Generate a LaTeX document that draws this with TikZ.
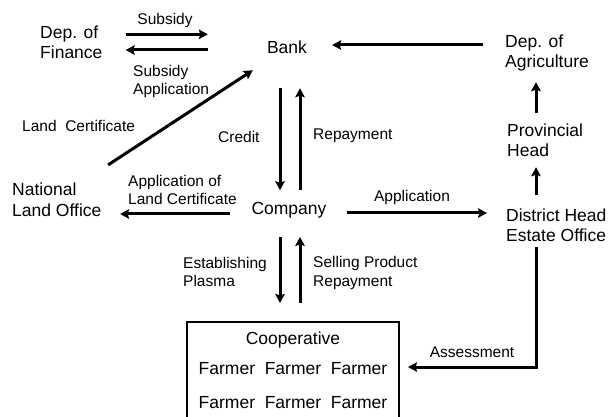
\documentclass[tikz,border=0pt]{standalone}
\usepackage{fontspec}
\setmainfont{Liberation Sans}
\usetikzlibrary{arrows.meta}
\tikzstyle{actor} = [inner sep=0pt, align=left, font=\fontsize{17.5}{20}\selectfont]
\tikzstyle{note} = [inner sep=0pt, align=left, font=\fontsize{15.5}{18.5}\selectfont]
\tikzstyle{group} = [rectangle, draw=black, line width=2pt, minimum width=212pt, inner xsep=0pt, inner ysep=10pt, align=center, font=\fontsize{17.5}{20}\selectfont]
\tikzstyle{arrow} = [line width=3pt,-{Stealth[length=9pt,width=9.5pt,inset=1.5pt]}]

\begin{document}
\begin{tikzpicture}[x=1pt,y=-1pt]
\useasboundingbox (0,0) rectangle (611,417);

% Nodes
\node (fin) [actor, anchor=west] at (40,42.1) {Dep. of\\Finance};
\node (bank) [actor] at (287,47.6) {Bank};
\node (agri) [actor, anchor=west] at (505,53) {Dep. of\\Agriculture};
\node (prov) [actor, anchor=west] at (507,140.6) {Provincial\\Head};
\node (dist) [actor, anchor=west] at (506,225.3) {District Head\\Estate Office};
\node (comp) [actor] at (289,210.5) {Company};
\node (nlo) [actor, anchor=west] at (12,199.5) {National\\[1.5pt]Land Office};
\node (coop) [group, anchor=north] at (293,321) {Cooperative\\[10pt]Farmer\ \ Farmer\ \ Farmer\\[14pt]Farmer\ \ Farmer\ \ Farmer\rule[-12pt]{0pt}{12pt}};

% Annotations
\node (subsidy) [note] at (165,20.5) {Subsidy};
\node (subapp) [note, anchor=west] at (133,81.5) {Subsidy\\Application};
\node (landcert) [note, anchor=west] at (22,126) {Land\ \ Certificate};
\node (credit) [note, anchor=west] at (218,137) {Credit};
\node (repay) [note, anchor=west] at (313,136) {Repayment};
\node (appl) [note] at (412,197.5) {Application};
\node (appland) [note, anchor=west] at (128,190) {Application of\\Land Certificate};
\node (estab) [note, anchor=west] at (183,272) {Establishing\\Plasma};
\node (selling) [note, anchor=west] at (313,273) {Selling Product\\Repayment};
\node (assess) [note] at (472,352) {Assessment};

% Arrows
\draw [arrow] ([xshift=23pt,yshift=7.8pt]fin.east) -- ([xshift=-59pt,yshift=13.3pt]bank.west);
\draw [arrow] ([xshift=-59pt,yshift=-2.4pt]bank.west) -- ([xshift=23pt,yshift=-7.9pt]fin.east);
\draw [arrow] ([xshift=-22pt,yshift=8pt]agri.west) -- ([xshift=25pt,yshift=2.6pt]bank.east);
\draw [arrow] ([xshift=29pt,yshift=11.2pt]prov.north west) -- ([xshift=31pt,yshift=-10.8pt]agri.south west);
\draw [arrow] ([xshift=30pt,yshift=13.9pt]dist.north west) -- ([xshift=29pt,yshift=-10pt]prov.south west);
\draw [arrow] ([xshift=-7pt,yshift=-34pt]bank.south) -- ([xshift=-9pt,yshift=12.2pt]comp.north);
\draw [arrow] ([xshift=11pt,yshift=12.2pt]comp.north) -- ([xshift=13pt,yshift=-34pt]bank.south);
\draw [arrow] ([xshift=20.6pt,yshift=-2.5pt]comp.east) -- ([xshift=-19pt,yshift=12.3pt]dist.west);
\draw [arrow] ([xshift=-21.6pt,yshift=-3.5pt]comp.west) -- ([xshift=18.5pt,yshift=-14.5pt]nlo.east);
\draw [arrow] ([xshift=6.5pt,yshift=17.2pt]nlo.north east) -- ([xshift=-14pt,yshift=-16pt]bank.south west);
\draw [arrow] ([xshift=-9pt,yshift=-18.3pt]comp.south) -- ([xshift=-13pt,yshift=18pt]coop.north);
\draw [arrow] ([xshift=7pt,yshift=18pt]coop.north) -- ([xshift=11pt,yshift=-18.3pt]comp.south);
\draw [arrow] ([xshift=30pt,yshift=-5pt]dist.south west) |- ([xshift=8pt,yshift=9.3pt]coop.east);

\end{tikzpicture}
\end{document}
